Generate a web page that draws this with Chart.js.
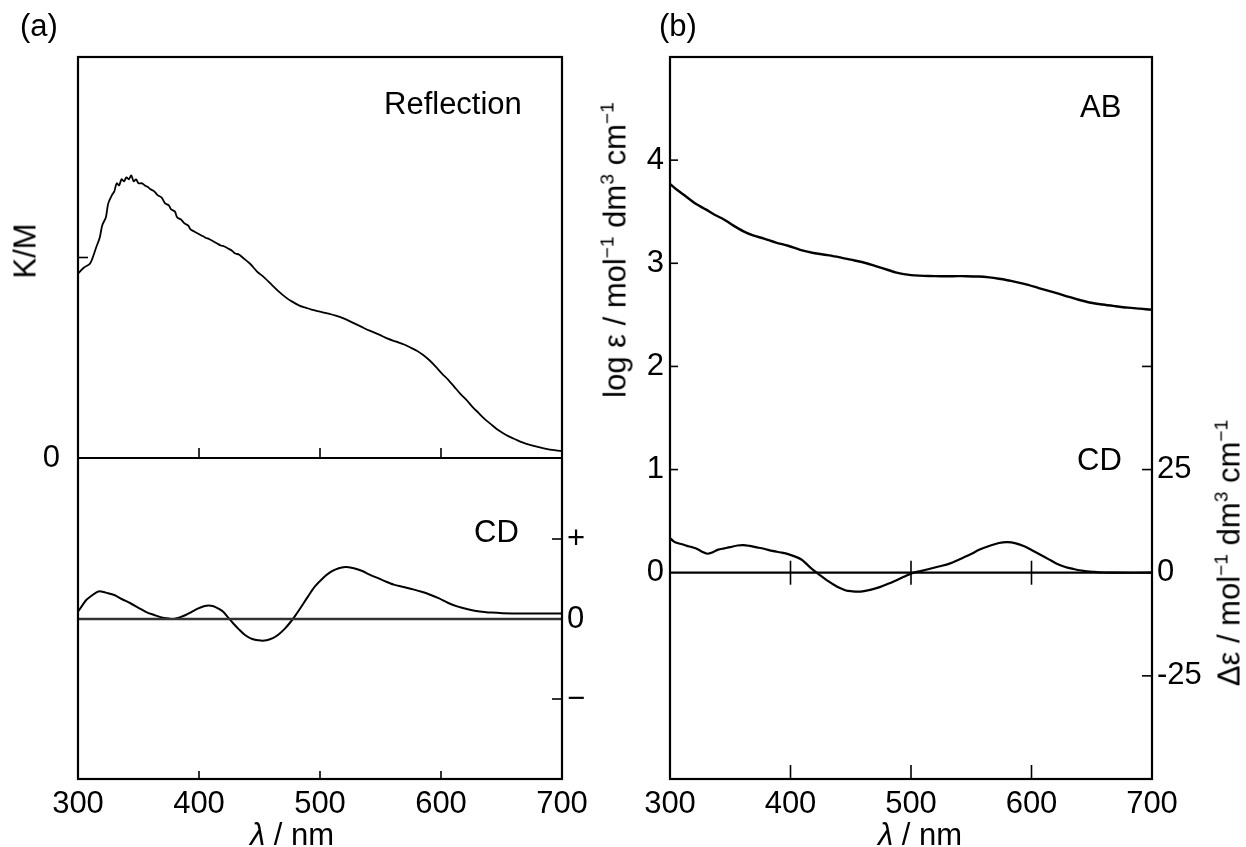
<!DOCTYPE html>
<html>
<head>
<meta charset="utf-8">
<script src="https://cdn.jsdelivr.net/npm/chart.js@4.4.1/dist/chart.umd.min.js"></script>
<style>
  html, body { margin:0; padding:0; background:#fff; }
  #wrap { position:relative; width:1246px; height:847px; overflow:hidden; font-family:'Liberation Sans', Arial, sans-serif; color:#000; }
  canvas { position:absolute; top:0; }
  .t { position:absolute; font-size:31px; line-height:1; white-space:nowrap; }
  .t sup { font-size:0.62em; vertical-align:0.62em; line-height:0; }
  .rot { transform:translate(-50%,-50%) rotate(-90deg); }
  .ctr { transform:translateX(-50%); }
</style>
</head>
<body>
<div id="wrap">
  <canvas id="ca" width="623" height="847" style="left:0px;width:623px;height:847px"></canvas>
  <canvas id="cb" width="623" height="847" style="left:623px;width:623px;height:847px"></canvas>

  <div class="t" style="left:20px;top:10px;font-size:31px">(a)</div>
  <div class="t" style="left:659px;top:10px;font-size:31px">(b)</div>
  <div class="t" style="left:384px;top:88px">Reflection</div>
  <div class="t" style="left:474px;top:516px">CD</div>
  <div class="t" style="left:1080px;top:91px">AB</div>
  <div class="t" style="left:1077px;top:444px">CD</div>
  <div class="t rot" style="left:25px;top:251px">K/M</div>
  <div class="t rot" style="left:615px;top:250px">log ε / mol<sup>−1</sup> dm<sup>3</sup> cm<sup>−1</sup></div>
  <div class="t rot" style="left:1229px;top:553px">Δε / mol<sup>−1</sup> dm<sup>3</sup> cm<sup>−1</sup></div>
  <div class="t ctr" style="left:292px;top:819px"><i>λ</i> / nm</div>
  <div class="t ctr" style="left:920px;top:819px"><i>λ</i> / nm</div>
</div>
<script>
// ---------- data ----------
const xTickValues = [300, 400, 500, 600, 700];
const innerXTicks = [400, 500, 600];

// (a) reflection spectrum, K/M (arbitrary units)
const reflWl = [300,305,310,315,318,320,323,325,328,330,332,334,336,338,340,342,344,346,348,350,353,355,358,360,363,366,369,372,375,377,380,382,385,388,391,393,396,399,402,405,409,412,415,418,421,424,427,430,433,436,442,448,454,460,466,472,477,483,488,493,500,507,513,520,527,534,541,549,556,563,570,575,580,585,590,595,601,606,611,616,621,626,631,636,641,646,651,656,660,665,670,675,680,685,690,695,700];
const reflKM = [0.92,0.95,0.97,1.05,1.10,1.16,1.20,1.27,1.31,1.33,1.37,1.36,1.39,1.38,1.40,1.39,1.41,1.38,1.39,1.37,1.37,1.36,1.35,1.34,1.33,1.31,1.30,1.27,1.26,1.24,1.23,1.20,1.19,1.17,1.16,1.14,1.13,1.12,1.11,1.10,1.09,1.08,1.07,1.06,1.055,1.045,1.035,1.02,1.015,1.00,0.97,0.93,0.90,0.865,0.83,0.80,0.78,0.76,0.75,0.74,0.73,0.72,0.71,0.695,0.675,0.655,0.635,0.615,0.595,0.58,0.565,0.55,0.535,0.515,0.49,0.46,0.42,0.39,0.355,0.32,0.29,0.255,0.225,0.195,0.17,0.145,0.125,0.108,0.097,0.083,0.072,0.063,0.055,0.048,0.042,0.038,0.035];

// (a) CD spectrum (arbitrary units, + / -)
const cdAWl = [300,304,307,312,316,319,323,330,336,343,350,356,363,369,375,379,384,389,394,399,404,408,412,416,420,424,428,433,438,444,451,456,461,466,471,475,479,484,490,496,503,508,513,518,522,528,535,541,548,554,561,569,577,584,590,598,606,614,623,632,642,651,659,680,700];
const cdAVal = [0.09,0.18,0.24,0.30,0.34,0.345,0.33,0.30,0.25,0.20,0.14,0.09,0.05,0.02,0.005,0.0,0.02,0.05,0.09,0.13,0.16,0.17,0.16,0.13,0.09,0.02,-0.05,-0.13,-0.20,-0.25,-0.27,-0.265,-0.24,-0.19,-0.12,-0.05,0.03,0.14,0.28,0.41,0.52,0.58,0.62,0.645,0.65,0.635,0.60,0.555,0.51,0.47,0.43,0.40,0.37,0.34,0.31,0.26,0.20,0.155,0.12,0.095,0.08,0.072,0.07,0.07,0.07];

// (b) absorption spectrum, log epsilon
const abWl = [300,306,313,321,330,337,344,352,361,369,378,388,398,408,419,430,440,450,460,470,481,488,494,500,507,515,525,535,546,556,565,573,583,594,606,618,628,638,648,659,669,680,690,700];
const abLogE = [3.77,3.71,3.65,3.58,3.52,3.47,3.43,3.37,3.31,3.27,3.24,3.20,3.17,3.13,3.10,3.08,3.06,3.035,3.01,2.975,2.935,2.91,2.895,2.885,2.88,2.877,2.875,2.875,2.875,2.872,2.863,2.85,2.83,2.80,2.76,2.72,2.685,2.65,2.62,2.60,2.585,2.57,2.56,2.55];

// (b) CD spectrum, delta epsilon
const cdBWl = [300,303,306,310,314,318,323,327,331,335,340,345,350,356,361,366,371,378,385,392,398,404,409,413,417,421,424,430,436,441,446,451,456,461,467,474,481,488,494,501,508,515,523,532,540,549,557,566,573,580,587,594,600,607,614,621,628,635,643,652,660,669,700];
const cdBVal = [8.4,7.6,7.2,6.9,6.5,6.2,5.7,5.0,4.6,4.9,5.6,5.9,6.2,6.6,6.7,6.5,6.2,5.8,5.3,4.9,4.5,3.9,3.2,2.2,1.1,0.2,-0.5,-1.8,-2.9,-3.7,-4.3,-4.5,-4.6,-4.45,-4.1,-3.5,-2.7,-1.8,-1.0,-0.1,0.4,0.9,1.5,2.2,3.2,4.4,5.6,6.6,7.2,7.4,7.1,6.4,5.5,4.4,3.3,2.2,1.4,0.9,0.45,0.2,0.05,0.0,0.0];

// tick values and labels
const kmTickValues = [0];          // labelled
const kmInnerTicks = [1];          // unlabelled inner tick
const cdATickValues = [1, 0, -1];
const cdATickLabels = ['+', '0', '−'];
const logTickValues = [0, 1, 2, 3, 4];
const dETickValues = [-25, 0, 25, 50];
const dETickLabels = ['-25', '0', '25', ''];
const zeroLineX = [300, 700];

// ---------- helpers ----------
const FONT = "'Liberation Sans', Arial, sans-serif";
Chart.defaults.font.family = FONT;
Chart.defaults.font.size = 31;
Chart.defaults.color = '#000';

const pts = (xs, ys) => xs.map((x, i) => ({ x, y: ys[i] }));
const line = (data, yAxisID, opts = {}) => Object.assign({
  data, yAxisID, xAxisID: 'x', borderColor: '#000', borderWidth: 2,
  pointRadius: 0, tension: 0.3, fill: false
}, opts);

const frameTicks = {
  id: 'frameTicks',
  afterDatasetsDraw(chart, args, opts) {
    const { ctx, chartArea: a } = chart;
    ctx.save();
    ctx.strokeStyle = '#000';
    ctx.lineWidth = 1.6;
    (opts.marks || []).forEach(m => {
      if (m.kind === 'x') {
        const xs = chart.scales.x;
        const y0 = m.scale ? chart.scales[m.scale].getPixelForValue(m.at) : a.bottom;
        m.values.forEach(v => {
          const px = xs.getPixelForValue(v);
          ctx.beginPath(); ctx.moveTo(px, y0 + m.down); ctx.lineTo(px, y0 - m.up); ctx.stroke();
        });
      } else {
        const s = chart.scales[m.scale];
        const x0 = m.side === 'left' ? a.left : a.right;
        const dir = m.side === 'left' ? 1 : -1;
        m.values.forEach(v => {
          const py = s.getPixelForValue(v);
          ctx.beginPath(); ctx.moveTo(x0, py); ctx.lineTo(x0 + dir * m.len, py); ctx.stroke();
        });
      }
    });
    ctx.lineWidth = 2.2;
    ctx.strokeRect(a.left, a.top, a.right - a.left, a.bottom - a.top);
    ctx.restore();
  }
};

const xScale = (h, pad) => ({
  type: 'linear', position: 'bottom', min: 300, max: 700,
  grid: { display: false, drawTicks: false }, border: { display: false },
  afterBuildTicks: s => { s.ticks = xTickValues.map(v => ({ value: v })); },
  ticks: { autoSkip: false, maxRotation: 0, padding: pad },
  afterFit: s => { s.height = h; }
});

const yScale = (pos, min, max, values, labels, width, pad) => ({
  type: 'linear', position: pos, min, max,
  grid: { display: false, drawTicks: false }, border: { display: false },
  afterBuildTicks: s => { s.ticks = values.map(v => ({ value: v })); },
  ticks: {
    autoSkip: false, padding: pad,
    callback: (v) => { const i = values.indexOf(v); return labels ? labels[i] : String(v); }
  },
  afterFit: s => { s.width = width; }
});

const common = {
  responsive: false, animation: false, devicePixelRatio: 1,
  plugins: { legend: { display: false }, tooltip: { enabled: false } },
  events: []
};

// ---------- chart (a) ----------
new Chart(document.getElementById('ca'), {
  type: 'line',
  data: {
    datasets: [
      line(pts(zeroLineX, [0, 0]), 'yKM', { tension: 0, borderWidth: 2.2 }),
      line(pts(zeroLineX, [0, 0]), 'yCD', { tension: 0, borderWidth: 2.5, borderColor: '#333' }),
      line(pts(reflWl, reflKM), 'yKM', { tension: 0.3, borderWidth: 1.8 }),
      line(pts(cdAWl, cdAVal), 'yCD')
    ]
  },
  options: Object.assign({}, common, {
    layout: { padding: { top: 57, left: 0, right: 0, bottom: 0 } },
    scales: {
      x: xScale(68, 7),
      yKM: yScale('left', -1.601, 2.0, kmTickValues, ['0'], 78, 18),
      yCD: yScale('right', -2.0, 7.025, cdATickValues, cdATickLabels, 61, 5)
    },
    plugins: Object.assign({}, common.plugins, {
      frameTicks: { marks: [
        { kind: 'x', values: innerXTicks, up: 8, down: 0 },
        { kind: 'x', values: innerXTicks, scale: 'yKM', at: 0, up: 10, down: 0 },
        { kind: 'y', scale: 'yKM', values: kmInnerTicks, side: 'left', len: 10 },
        { kind: 'y', scale: 'yCD', values: [1, -1], side: 'right', len: 10 }
      ] }
    })
  }),
  plugins: [frameTicks]
});

// ---------- chart (b) ----------
new Chart(document.getElementById('cb'), {
  type: 'line',
  data: {
    datasets: [
      line(pts(zeroLineX, [0, 0]), 'yL', { tension: 0, borderWidth: 2.2 }),
      line(pts(abWl, abLogE), 'yL', { borderWidth: 2.4 }),
      line(pts(cdBWl, cdBVal), 'yR', { borderWidth: 2.2 })
    ]
  },
  options: Object.assign({}, common, {
    layout: { padding: { top: 57, left: 0, right: 0, bottom: 0 } },
    scales: {
      x: xScale(68, 7),
      yL: yScale('left', -2, 5, logTickValues, null, 47, 6),
      yR: yScale('right', -50, 125, dETickValues, dETickLabels, 94, 5)
    },
    plugins: Object.assign({}, common.plugins, {
      frameTicks: { marks: [
        { kind: 'x', values: innerXTicks, up: 14, down: 0 },
        { kind: 'x', values: innerXTicks, scale: 'yL', at: 0, up: 12, down: 12 },
        { kind: 'y', scale: 'yL', values: [1, 2, 3, 4], side: 'left', len: 8 },
        { kind: 'y', scale: 'yR', values: [-25, 25, 50], side: 'right', len: 10 }
      ] }
    })
  }),
  plugins: [frameTicks]
});
</script>
</body>
</html>
